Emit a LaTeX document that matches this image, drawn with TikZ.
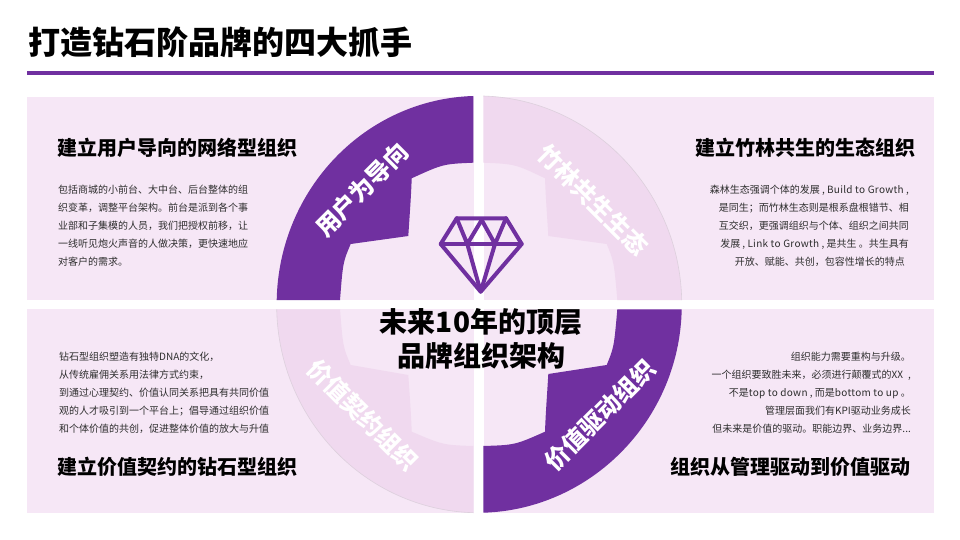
\documentclass[tikz,border=0pt]{standalone}
\usepackage{fontspec}
\setmainfont{Noto Sans CJK SC}
\newfontfamily\latn[LetterSpace=3]{Noto Sans CJK SC}
\definecolor{brand}{HTML}{7030A0}
\definecolor{panelbg}{HTML}{F6E7F6}
\definecolor{seglight}{HTML}{F0D9EF}
\definecolor{rimline}{HTML}{DDD0DD}
\definecolor{bodyink}{HTML}{2E2E2E}
\tikzset{
  panel/.style={fill=panelbg,draw=none},
  segdark/.style={fill=brand,draw=none},
  seglite/.style={fill=seglight,draw=none},
  rim/.style={draw=rimline,line width=0.6pt},
  titletext/.style={inner sep=0,anchor=west,font=\fontsize{32}{38}\selectfont\bfseries},
  headtext/.style={inner sep=0,font=\fontsize{20}{24}\selectfont\bfseries},
  bodytext/.style={inner sep=0,text=bodyink,font=\fontsize{10}{18}\selectfont},
  ringtext/.style={inner sep=0,text=white,font=\fontsize{24}{28}\selectfont\bfseries},
  centertext/.style={inner sep=0,align=center,font=\fontsize{28}{33.5}\selectfont\bfseries},
  gem/.style={draw=brand,line width=4pt,line join=round,line cap=round}
}
\begin{document}
\begin{tikzpicture}[x=1pt,y=-1pt]
\useasboundingbox (0,0) rectangle (960,540);
\fill[white] (0,0) rectangle (960,540);
\node[titletext] (title) at (28,42) {打造钻石阶品牌的四大抓手};
\fill[brand] (27,71) rectangle (934,75);
% panels
\fill[panel] (27,97) rectangle (473.5,300);
\fill[panel] (483.5,97) rectangle (934,300);
\fill[panel] (27,309) rectangle (473.5,513);
\fill[panel] (483.5,309) rectangle (934,513);
% ring segments
\fill[segdark] (276.7,300) .. controls (279,189) and (365.5,99.2) .. (473.3,96)
  -- (473.3,162.7) .. controls (443,164) .. (411.7,178.3)
  .. controls (411,198) and (409.5,217) .. (408.3,236) -- (350.7,244)
  .. controls (343,262) .. (340,300) -- cycle;
\fill[seglite] (681.7,300) .. controls (679.4,189) and (591,99.2) .. (483.3,96)
  -- (483.3,162.7) .. controls (515,164) .. (545,178.3)
  .. controls (545.7,198) and (547.2,217) .. (548.3,236) -- (606.7,244)
  .. controls (614,262) .. (617.3,300) -- cycle;
\fill[segdark] (681.7,309.3) .. controls (679.4,420) and (591,509.5) .. (483.3,512.7)
  -- (483.3,446) .. controls (515,445) .. (545,431.7)
  .. controls (545.7,412) and (547.2,393) .. (548.3,374) -- (606.7,365)
  .. controls (614,347) .. (617.3,309.3) -- cycle;
\fill[seglite] (276.7,309.3) .. controls (279,420) and (365.5,509.5) .. (473.3,512.7)
  -- (473.3,446) .. controls (443,445) .. (411.7,431.7)
  .. controls (411,412) and (409.5,393) .. (408.3,375) -- (350.7,365)
  .. controls (343,347) .. (340,309.3) -- cycle;
\draw[rim] (681.7,300) .. controls (679.4,189) and (591,99.2) .. (483.3,96);
\draw[rim] (276.7,309.3) .. controls (279,420) and (365.5,509.5) .. (473.3,512.7);
% ring labels
\node[ringtext,rotate=45] (ringa) at (362,190) {用户为导向};
\node[ringtext,rotate=-45] (ringb) at (593,200) {竹林共生生态};
\node[ringtext,rotate=45] (ringc) at (600,415) {价值驱动组织};
\node[ringtext,rotate=-45] (ringd) at (363,415) {价值契约组织};
% gem
\draw[gem] (456.7,218.3) -- (506,218.3) -- (521.7,244) -- (480.7,291.7) -- (440.7,244) -- cycle;
\draw[gem] (440.7,244) -- (521.7,244);
\draw[gem] (456.7,218.3) -- (467.3,244) -- (481.7,220) -- (495,244) -- (506,218.3);
\draw[gem] (467.3,244) -- (480.7,291.7) -- (495,244);
% centre text
\node[centertext] (centre) at (481,339) {未来10年的顶层\\品牌组织架构};
% headings
\node[headtext,anchor=west] (heada) at (57,148) {建立用户导向的网络型组织};
\node[headtext,anchor=east] (headb) at (916,148) {建立竹林共生的生态组织};
\node[headtext,anchor=west] (headd) at (57,467) {建立价值契约的钻石型组织};
\node[headtext,anchor=east] (headc) at (911,467) {组织从管理驱动到价值驱动};
% body
\node[bodytext,anchor=west,align=left] (bodya) at (58,226) {包括商城的小前台、大中台、后台整体的组\\织变革，调整平台架构。前台是派到各个事\\业部和子集模的人员，我们把授权前移，让\\一线听见炮火声音的人做决策，更快速地应\\对客户的需求。};
\node[bodytext,anchor=east,align=right] (bodyb) at (909,226) {森林生态强调个体的发展 , {\latn Build to Growth} ,\\是同生；而竹林生态则是根系盘根错节、相\hspace*{4pt}\\互交织，更强调组织与个体、组织之间共同\hspace*{4pt}\\发展 , {\latn Link to Growth} , 是共生 。共生具有\hspace*{4pt}\\开放、赋能、共创，包容性增长的特点\hspace*{4pt}};
\node[bodytext,anchor=west,align=left] (bodyd) at (59,392.5) {钻石型组织塑造有独特DNA的文化，\\从传统雇佣关系用法律方式约束，\\到通过心理契约、价值认同关系把具有共同价值\\观的人才吸引到一个平台上；倡导通过组织价值\\和个体价值的共创，促进整体价值的放大与升值};
\node[bodytext,anchor=east,align=right] (bodyc) at (911,392.5) {组织能力需要重构与升级。\\一个组织要致胜未来，必须进行颠覆式的XX\hspace{5pt},\hspace*{2pt}\\不是{\latn top to down} , 而是{\latn bottom to up} 。\hspace*{8pt}\\管理层面我们有KPI驱动业务成长\\但未来是价值的驱动。职能边界、业务边界...};
\end{tikzpicture}
\end{document}
